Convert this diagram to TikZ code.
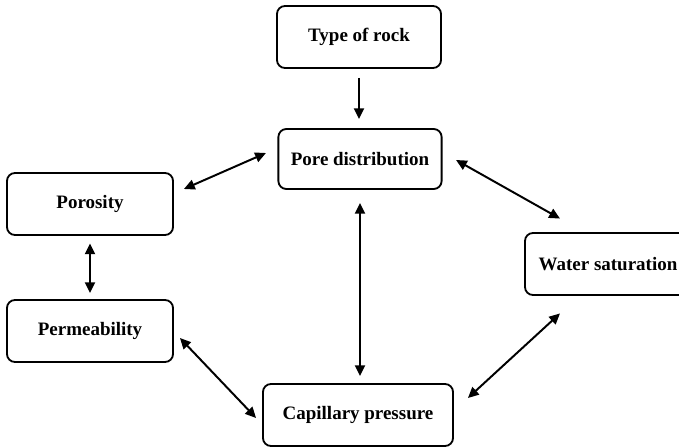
\documentclass[tikz,border=0pt]{standalone}
\usepackage{fontspec}
\setmainfont{Liberation Serif}
\usetikzlibrary{arrows.meta,calc}

\tikzset{
  factor/.style={draw, line width=1.3pt, rounded corners=0.2cm, align=center,
    minimum width=4.15cm, minimum height=1.55cm, inner sep=0pt,
    font=\fontsize{13.5}{15}\selectfont\bfseries},
  link/.style={line width=1.4pt, {Triangle[length=2.7mm,width=2.5mm]}-{Triangle[length=2.7mm,width=2.5mm]}},
  onelink/.style={line width=1.4pt, -{Triangle[length=2.7mm,width=2.5mm]}}
}

\begin{document}
\begin{tikzpicture}[x=0.025cm, y=-0.025cm]
\useasboundingbox (0,0) rectangle (679,447);

% Boxes
\node[factor, minimum width=4.1cm] (rock) at (359,37) {Type of rock};
\node[factor, minimum width=4.08cm, minimum height=1.5cm] (pore) at (360,159) {Pore distribution};
\node[factor] (poro) at (90,204) {Porosity};
\node[factor, minimum height=1.55cm] (perm) at (90,331) {Permeability};
\node[factor, minimum width=4.75cm] (cap) at (358,415) {Capillary pressure};
\node[factor] (water) at (608,264) {Water saturation};

% Arrows
\draw[onelink] ($(rock.south)+(0,9)$) -- ($(pore.north)+(-1,-9)$);
\draw[link] ($(pore.west)+(-11.5,-6)$) -- ($(poro.east)+(10,-15)$);
\draw[link] ($(pore.east)+(13.5,1)$) -- ($(water.north)+(-48,-13.5)$);
\draw[link] ($(pore.south)+(0,13)$) -- ($(cap.north)+(2,-7)$);
\draw[link] ($(poro.south)+(0,7.5)$) -- ($(perm.north)+(0,-6)$);
\draw[link] ($(perm.east)+(6,7)$) -- ($(cap.west)+(-6,3)$);
\draw[link] ($(water.south)+(-48,17.5)$) -- ($(cap.east)+(14,-17)$);
\end{tikzpicture}
\end{document}
